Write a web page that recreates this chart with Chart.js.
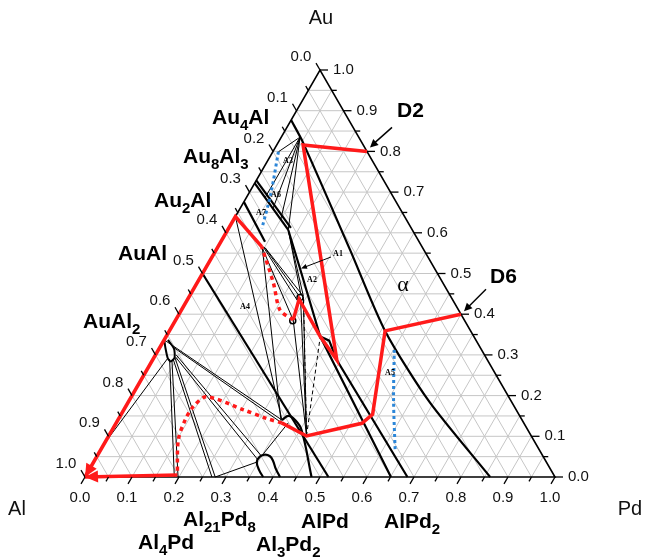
<!DOCTYPE html>
<html>
<head>
<meta charset="utf-8">
<script src="https://cdn.jsdelivr.net/npm/chart.js@4.4.0/dist/chart.umd.min.js"></script>
<style>
  html, body { margin: 0; padding: 0; background: #fff; }
</style>
</head>
<body>
<canvas id="ternary" width="645" height="557"></canvas>
<script>
// every point is a composition [Pd, Au]; Al = 1 - Pd - Au
const gridSteps = [0.05, 0.1, 0.15, 0.2, 0.25, 0.3, 0.35, 0.4, 0.45, 0.5, 0.55, 0.6, 0.65, 0.7, 0.75, 0.8, 0.85, 0.9, 0.95];
const tickSteps = [0, 0.05, 0.1, 0.15, 0.2, 0.25, 0.3, 0.35, 0.4, 0.45, 0.5, 0.55, 0.6, 0.65, 0.7, 0.75, 0.8, 0.85, 0.9, 0.95, 1];
const tickLabels = ['0.0', '0.1', '0.2', '0.3', '0.4', '0.5', '0.6', '0.7', '0.8', '0.9', '1.0'];

const edge = [[0, 0], [1, 0], [0, 1], [0, 0]];

// phase boundaries (thick)
const alphaLine = [[0, 0.877], [0.051, 0.824], [0.285, 0.558], [0.459, 0.359], [0.64, 0.185], [0.862, 0]];
const auAlLine = [[0, 0.5], [0.518, 0]];
const au8Al3A = [[0, 0.722], [0.129, 0.607]];
const au8Al3B = [[0, 0.729], [0.132, 0.612]];
const au2AlLine = [[0, 0.676], [0.094, 0.578]];
const alPdLeft = [[0.129, 0.607], [0.2, 0.514], [0.328, 0.345], [0.651, 0]];
const alPdRight = [[0.328, 0.345], [0.352, 0.335], [0.392, 0.2875], [0.686, 0]];
const humpLine = [[0.349, 0.14], [0.358, 0.15], [0.377, 0.14], [0.403, 0.1155], [0.482, 0]];
const al3Pd2Loop = [[0.379, 0], [0.362, 0.017], [0.347, 0.037], [0.347, 0.05], [0.355, 0.055], [0.368, 0.051], [0.38, 0.04], [0.396, 0.02], [0.415, 0]];
const auAl2Loop = [[0, 0.337], [0.014, 0.315], [0.03, 0.292], [0.04, 0.284], [0.044, 0.293], [0.032, 0.315], [0.008, 0.337]];
const smallRings = [[0.237, 0.441], [0.25, 0.384]];

// tie lines (thin)
const tiesTop = [
  [[0.04, 0.835], [0.012, 0.799]],
  [[0.04, 0.835], [0.04, 0.686]],
  [[0.04, 0.835], [0.07, 0.66]],
  [[0.04, 0.835], [0.10, 0.633]],
  [[0.04, 0.835], [0.129, 0.607]]
];
const tiesMid = [
  [[0.093, 0.566], [0.248, 0.388]],
  [[0.096, 0.566], [0.241, 0.428]],
  [[0.099, 0.565], [0.234, 0.444]],
  [[0.102, 0.563], [0.239, 0.447]],
  [[0.129, 0.607], [0.236, 0.447]],
  [[0.131, 0.604], [0.242, 0.445]],
  [[0, 0.64], [0.349, 0.14]],
  [[0.094, 0.566], [0.348, 0.138]],
  [[0.421, 0.1007], [0.25, 0.386]],
  [[0.421, 0.1007], [0.238, 0.441]],
  [[0.421, 0.1007], [0.243, 0.443]]
];
const tiesDashed = [
  [[0.421, 0.1007], [0.246, 0.438]],
  [[0.421, 0.1007], [0.328, 0.345]]
];
const tiesAuAl2 = [
  [[0.035, 0.29], [0.19, 0]],
  [[0.042, 0.286], [0.198, 0]],
  [[0.044, 0.288], [0.27, 0]],
  [[0.045, 0.293], [0.277, 0]],
  [[0.045, 0.295], [0.347, 0.042]],
  [[0.044, 0.3], [0.349, 0.052]],
  [[0, 0.337], [0.349, 0.14]],
  [[0.03, 0.318], [0.352, 0.133]],
  [[0.03, 0.29], [0, 0.08]],
  [[0.277, 0], [0.348, 0.037]],
  [[0.351, 0.057], [0.366, 0.133]]
];

// diffusion paths
const d2Solid = [[0.2, 0.8], [0.056, 0.816], [0.392, 0.2875], [0.328, 0.345], [0.237, 0.437], [0.25, 0.386]];
const d2Dotted = [[0.25, 0.386], [0.21, 0.41], [0.163, 0.476], [0.093, 0.566]];
const d2End = [[0.093, 0.566], [0, 0.64], [0, 0]];
const d6Solid = [[0.6, 0.4], [0.459, 0.359], [0.535, 0.154], [0.523, 0.132], [0.421, 0.1007], [0.352, 0.133]];
const d6Dotted = [[0.352, 0.133], [0.314, 0.144], [0.255, 0.165], [0.16, 0.197], [0.144, 0.173], [0.143, 0.14], [0.153, 0.091], [0.192, 0.009]];
const d6End = [[0.194, 0.005], [0, 0]];
const blueA3 = [[0.012, 0.799], [0.047, 0.697], [0.071, 0.611]];
const blueA5 = [[0.502, 0.312], [0.562, 0.189], [0.629, 0.062]];

const H = Math.sqrt(3) / 2;
const toXY = ([pd, au]) => ({ x: pd + au / 2, y: au * H });
const RED = '#ff1a1a';
const BLUE = '#2c86d8';

function line(points, color, width, order, extra) {
  return Object.assign({
    data: points.map(toXY),
    showLine: true,
    borderColor: color,
    borderWidth: width,
    pointRadius: 0,
    pointHoverRadius: 0,
    fill: false,
    tension: 0,
    clip: false,
    order: order
  }, extra || {});
}

const datasets = [];
gridSteps.forEach(g => {
  datasets.push(line([[0, g], [1 - g, g]], '#c6c6c6', 1, 9));
  datasets.push(line([[g, 0], [g, 1 - g]], '#c6c6c6', 1, 9));
  datasets.push(line([[1 - g, 0], [0, 1 - g]], '#c6c6c6', 1, 9));
});
tiesTop.concat(tiesMid, tiesAuAl2).forEach(s => datasets.push(line(s, '#000', 1, 7)));
tiesDashed.forEach(s => datasets.push(line(s, '#000', 1, 7, { borderDash: [4, 3] })));
datasets.push(line(alphaLine, '#000', 2.2, 6, { tension: 0.25 }));
[auAlLine, au8Al3A, au8Al3B, au2AlLine, alPdLeft, alPdRight].forEach(s => datasets.push(line(s, '#000', 2.2, 6)));
[humpLine, al3Pd2Loop].forEach(s => datasets.push(line(s, '#000', 2.2, 6, { tension: 0.4 })));
datasets.push(line(auAl2Loop, '#000', 2, 6, { tension: 0.2 }));
datasets.push(line(edge, '#000', 1.6, 5));
datasets.push(line(blueA3, BLUE, 3, 4, { borderDash: [3, 3], tension: 0.3 }));
datasets.push(line(blueA5, BLUE, 3, 4, { borderDash: [3, 3], tension: 0.3 }));
datasets.push({
  data: smallRings.map(toXY), showLine: false, pointRadius: 3, pointBorderWidth: 1.5,
  pointBorderColor: '#000', pointBackgroundColor: 'rgba(0,0,0,0)', clip: false, order: 3
});
[d2Solid, d2End, d6Solid, d6End].forEach(s => datasets.push(line(s, RED, 3.5, 2)));
[d2Dotted, d6Dotted].forEach(s => datasets.push(line(s, RED, 3.5, 2, { borderDash: [4, 4], tension: 0.3 })));

const SANS = '"Liberation Sans", Arial, sans-serif';
const SERIF = '"Liberation Serif", "Times New Roman", serif';

function arrow(ctx, tip, from, len, half) {
  const a = Math.atan2(tip[1] - from[1], tip[0] - from[0]);
  const bx = tip[0] - len * Math.cos(a), by = tip[1] - len * Math.sin(a);
  ctx.beginPath();
  ctx.moveTo(tip[0], tip[1]);
  ctx.lineTo(bx + half * Math.sin(a), by - half * Math.cos(a));
  ctx.lineTo(bx - half * Math.sin(a), by + half * Math.cos(a));
  ctx.closePath();
  ctx.fill();
}

// digits become subscripts unless plain is set
function chem(ctx, text, x, y, size, plain) {
  let cx = x;
  (plain ? [text] : text.split(/(\d+)/)).forEach((p, i) => {
    if (!p) return;
    const sub = !plain && i % 2 === 1;
    ctx.font = 'bold ' + (sub ? Math.round(size * 0.7) : size) + 'px ' + SANS;
    ctx.fillText(p, cx, y + (sub ? size * 0.3 : 0));
    cx += ctx.measureText(p).width;
  });
}

const decor = {
  id: 'decor',
  afterDatasetsDraw(chart) {
    const { ctx, scales: { x, y } } = chart;
    const px = (pd, au) => [x.getPixelForValue(pd + au / 2), y.getPixelForValue(au * H)];
    const seg = (a, b, c, d) => { ctx.beginPath(); ctx.moveTo(a, b); ctx.lineTo(c, d); ctx.stroke(); };
    ctx.save();

    // axis ticks
    ctx.strokeStyle = '#000';
    ctx.lineWidth = 1.3;
    tickSteps.forEach((t, i) => {
      const len = i % 2 === 0 ? 8 : 5;
      const [bx, by] = px(t, 0);
      seg(bx, by, bx - 0.5 * len, by + H * len);
      const [lx, ly] = px(0, 1 - t);
      seg(lx, ly, lx - 0.5 * len, ly - H * len);
      const [rx, ry] = px(1 - t, t);
      seg(rx, ry, rx + len, ry);
    });

    // tick labels
    ctx.fillStyle = '#111';
    ctx.font = '15px ' + SANS;
    ctx.textBaseline = 'middle';
    tickLabels.forEach((lab, i) => {
      const t = i / 10;
      ctx.textAlign = 'center';
      const [bx, by] = px(t, 0);
      ctx.fillText(lab, bx - 5, by + 21);
      const [lx, ly] = px(0, 1 - t);
      ctx.fillText(lab, lx - 19, ly - 13);
      ctx.textAlign = 'left';
      const [rx, ry] = px(1 - t, t);
      ctx.fillText(lab, rx + 13, ry);
    });

    // corner titles
    ctx.font = '20px ' + SANS;
    ctx.textAlign = 'center';
    ctx.fillText('Au', 321, 18);
    ctx.fillText('Al', 17, 509);
    ctx.fillText('Pd', 630, 509);

    // phase names
    ctx.fillStyle = '#000';
    ctx.textAlign = 'left';
    ctx.textBaseline = 'alphabetic';
    [['Au4Al', 212, 124], ['Au8Al3', 183, 163], ['Au2Al', 154, 207], ['AuAl', 118, 260],
     ['AuAl2', 83, 328], ['Al21Pd8', 183, 526], ['Al4Pd', 138, 549], ['AlPd', 301, 528],
     ['Al3Pd2', 256, 551], ['AlPd2', 384, 528]]
      .forEach(([t, lx, ly]) => chem(ctx, t, lx, ly, 21));
    chem(ctx, 'D2', 397, 117, 21, true);
    chem(ctx, 'D6', 490, 283, 21, true);

    // region labels
    ctx.font = '22px ' + SERIF;
    ctx.textAlign = 'center';
    ctx.textBaseline = 'middle';
    ctx.fillText('\u03b1', 403, 285);
    ctx.font = 'bold 8px ' + SERIF;
    [['A1', 338, 254], ['A2', 312, 280], ['A3', 288, 161], ['A4', 245, 307],
     ['A5', 390, 373], ['A6', 276, 195], ['A7', 261, 213]]
      .forEach(([t, lx, ly]) => ctx.fillText(t, lx, ly));

    // black pointer arrows
    ctx.strokeStyle = '#000';
    ctx.fillStyle = '#000';
    ctx.lineWidth = 1.5;
    const d2Tip = px(d2Solid[0][0], d2Solid[0][1]);
    const d6Tip = px(d6Solid[0][0], d6Solid[0][1]);
    [[d2Tip[0] + 3, d2Tip[1] - 4, 22, -20], [d6Tip[0] + 3, d6Tip[1] - 3, 22, -22]].forEach(([tx, ty, dx, dy]) => {
      seg(tx + dx, ty + dy, tx + 4, ty - 4);
      arrow(ctx, [tx, ty], [tx + dx, ty + dy], 8, 4);
    });
    ctx.lineWidth = 1;
    seg(331, 257, 305, 267);
    arrow(ctx, [301, 268.5], [331, 257], 6, 2.5);

    // red arrow heads at the Al corner
    ctx.fillStyle = RED;
    const al = px(0, 0);
    arrow(ctx, al, px(0, 0.1), 13, 6);
    arrow(ctx, al, px(0.1, 0.004), 13, 6);
    ctx.restore();
  }
};

new Chart(document.getElementById('ternary'), {
  type: 'scatter',
  data: { datasets: datasets },
  options: {
    responsive: false,
    animation: false,
    devicePixelRatio: 1,
    layout: { padding: { left: 85, right: 90, top: 70, bottom: 80 } },
    scales: {
      x: { type: 'linear', min: 0, max: 1, display: false },
      y: { type: 'linear', min: 0, max: H, display: false }
    },
    plugins: { legend: { display: false }, tooltip: { enabled: false } },
    events: []
  },
  plugins: [decor]
});
</script>
</body>
</html>
